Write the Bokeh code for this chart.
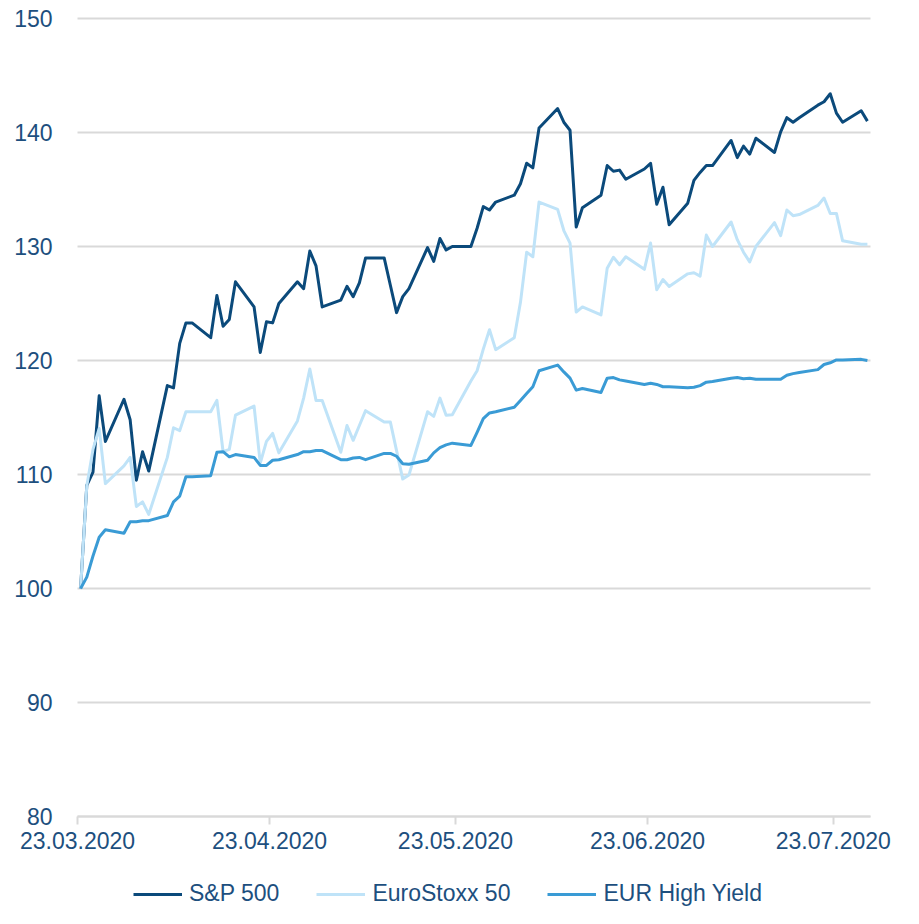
import pandas as pd
from bokeh.plotting import figure
from bokeh.models import (ColumnDataSource, FixedTicker, DatetimeTickFormatter,
                          Legend, LegendItem, Range1d)
from bokeh.embed import file_html
from bokeh.resources import INLINE

# ---------------- data ----------------
# trading days 23.03.2020 - 28.07.2020 (Mon-Fri)
dates = pd.bdate_range("2020-03-23", "2020-07-28")

sp500 = [
    # March 23-31
    100.0, 109.05, 110.2, 116.9, 112.9, 116.6, 114.8,
    # April
    109.5, 112.0, 110.3, 117.8, 117.6, 121.5, 123.3, 123.3, 122.0, 125.7,
    123.0, 123.6, 126.9, 124.7, 120.7, 123.4, 123.3, 125.0, 126.9, 126.3,
    129.6, 128.3,
    # May
    124.7, 125.3, 126.5, 125.6, 126.8, 129.0, 129.0, 126.6, 124.2, 125.6,
    126.3, 129.9, 128.7, 130.7, 129.7, 130.0, 130.0, 131.6, 133.5, 133.2,
    133.9,
    # June
    134.5, 135.5, 137.3, 136.9, 140.4, 142.1, 140.9, 140.2, 131.7, 133.4,
    134.5, 137.1, 136.6, 136.7, 135.9, 136.8, 137.3, 133.7, 135.2, 131.9,
    133.8, 135.8,
    # July 1-28
    136.5, 137.1, 137.1, 139.3, 137.8, 138.8, 138.1, 139.5, 138.25, 140.05,
    141.3, 140.9, 141.3, 142.4, 142.7, 143.4, 141.7, 140.9, 141.9, 141.0,
]

eurostoxx50 = [
    100.0, 109.0, 112.2, 114.05, 109.2, 110.75, 111.5,
    107.2, 107.6, 106.5, 111.5, 114.1, 113.85, 115.5, 115.5, 115.5, 116.5,
    112.0, 112.2, 115.2, 116.0, 111.0, 112.9, 113.6, 111.9, 114.7, 116.7,
    119.25, 116.5,
    116.5, 111.95, 114.3, 113.0, 114.3, 115.6, 114.6, 114.6, 112.1, 109.6,
    109.95, 115.5, 115.1, 116.7, 115.2, 115.25, 118.2, 119.1, 121.0, 122.7,
    120.95,
    122.0, 125.1, 129.5, 129.1, 133.9, 133.25, 131.4, 130.3, 124.25, 124.7,
    124.0, 128.1, 129.05, 128.4, 129.1, 128.0, 130.3, 126.2, 127.1, 126.5,
    127.6, 127.7,
    127.4, 131.0, 130.0, 132.15, 130.6, 129.5, 128.65, 130.0, 132.1, 130.95,
    133.2, 132.7, 132.8, 133.6, 134.25, 132.9, 132.9, 130.5, 130.2, 130.2,
]

eur_high_yield = [
    100.0, 101.0, 102.85, 104.5, 105.15, 104.85, 105.85,
    105.85, 105.95, 105.95, 106.4, 107.6, 108.1, 109.8, 109.8, 109.9, 111.95,
    112.0, 111.55, 111.75, 111.5, 110.8, 110.8, 111.25, 111.3, 111.75, 112.0,
    112.0, 112.1,
    112.1, 111.3, 111.3, 111.45, 111.5, 111.3, 111.85, 111.85, 111.6, 110.95,
    110.9, 111.25, 111.9, 112.35, 112.6, 112.75, 112.55, 113.7, 114.9, 115.4,
    115.5,
    115.9, 116.5, 117.1, 117.7, 119.1, 119.6, 119.0, 118.45, 117.4, 117.55,
    117.2, 118.45, 118.5, 118.3, 118.2, 117.9, 118.0, 117.9, 117.7, 117.7,
    117.6, 117.65,
    117.8, 118.1, 118.15, 118.45, 118.5, 118.4, 118.45, 118.35, 118.35, 118.35,
    118.7, 118.85, 118.95, 119.2, 119.65, 119.8, 120.05, 120.05, 120.1, 120.0,
]

series_names = ["S&P 500", "EuroStoxx 50", "EUR High Yield"]
series_colors = ["#0b4a7b", "#bfe3f8", "#3a9bd5"]

x_tick_dates = ["2020-03-23", "2020-04-23", "2020-05-23", "2020-06-23", "2020-07-23"]
x_axis_start, x_axis_end = "2020-03-23", "2020-07-29"
y_ticks = [80, 90, 100, 110, 120, 130, 140, 150]
y_axis_min, y_axis_max = 80, 150

# ---------------- styling ----------------
TEXT_COLOR = "#1d4f7e"
GRID_COLOR = "#d9d9d9"
FONT = "Liberation Sans"
FONT_SIZE = "23px"

assert len(dates) == len(sp500) == len(eurostoxx50) == len(eur_high_yield)

# ---------------- layout: one frame filling the 903 x 908 figure ----------------
FIG_W, FIG_H = 903, 908
LEFT, PLOT_W, RIGHT = 77, 793, 33      # px: y labels | plot area | right gap
TOP, PLOT_H, BELOW = 18, 798, 92       # px: top gap | plot area | dates + legend

DAY_MS = 86400000.0
t0 = pd.Timestamp(x_axis_start).timestamp() * 1000
t1 = pd.Timestamp(x_axis_end).timestamp() * 1000
ms_per_px = (t1 - t0) / PLOT_W
unit_per_px = (y_axis_max - y_axis_min) / PLOT_H

x_range = Range1d(t0 - LEFT * ms_per_px, t1 + RIGHT * ms_per_px)
y_range = Range1d(y_axis_min - BELOW * unit_per_px, y_axis_max + TOP * unit_per_px)

# points sit in the middle of their day (date axis, between tick marks)
xs = dates + pd.Timedelta(hours=12)
src = ColumnDataSource(dict(x=xs, sp=sp500, es=eurostoxx50, hy=eur_high_yield))

p = figure(
    x_axis_type="datetime", x_range=x_range, y_range=y_range,
    frame_width=FIG_W, frame_height=FIG_H,
    min_border_left=0, min_border_right=0, min_border_top=0, min_border_bottom=0,
    output_backend="svg", toolbar_location=None,
)
p.outline_line_color = None
p.background_fill_color = "white"
p.border_fill_color = "white"
p.xgrid.visible = False
p.ygrid.visible = False

# horizontal grid lines, only across the date span
grid_src = ColumnDataSource(dict(x0=[t0] * len(y_ticks), x1=[t1] * len(y_ticks),
                                 y=y_ticks))
p.segment(x0="x0", x1="x1", y0="y", y1="y", source=grid_src,
          line_color=GRID_COLOR, line_width=2)

renderers = []
for col, color in zip(["sp", "es", "hy"], series_colors):
    r = p.line(x="x", y=col, source=src, line_color=color, line_width=3,
               line_join="round")
    renderers.append(r)

# y axis, drawn at the first date
p.yaxis.fixed_location = t0
p.yaxis.ticker = FixedTicker(ticks=y_ticks)
p.yaxis.axis_line_color = None
p.yaxis.major_tick_line_color = None
p.yaxis.minor_tick_line_color = None
p.yaxis.major_label_standoff = 19
p.yaxis.major_label_text_font = FONT
p.yaxis.major_label_text_font_size = FONT_SIZE
p.yaxis.major_label_text_color = TEXT_COLOR

# x axis, drawn at the 80 line
p.xaxis.fixed_location = y_axis_min
p.xaxis.bounds = (t0, t1)
p.xaxis.ticker = FixedTicker(ticks=[pd.Timestamp(d).timestamp() * 1000 for d in x_tick_dates])
fmt = "%d.%m.%Y"
p.xaxis.formatter = DatetimeTickFormatter(
    milliseconds=fmt, seconds=fmt, minsec=fmt, minutes=fmt, hourmin=fmt,
    hours=fmt, days=fmt, months=fmt, years=fmt)
p.xaxis.axis_line_color = GRID_COLOR
p.xaxis.axis_line_width = 2
p.xaxis.major_tick_line_color = GRID_COLOR
p.xaxis.major_tick_line_width = 2
p.xaxis.major_tick_in = 0
p.xaxis.major_tick_out = 8
p.xaxis.minor_tick_line_color = None
p.xaxis.major_label_standoff = 7
p.xaxis.major_label_text_font = FONT
p.xaxis.major_label_text_font_size = FONT_SIZE
p.xaxis.major_label_text_color = TEXT_COLOR

# legend
items = [LegendItem(label=n, renderers=[r]) for n, r in zip(series_names, renderers)]
legend = Legend(
    items=items, orientation="horizontal", location=(133, 1),
    glyph_width=49, glyph_height=24, label_standoff=7, spacing=37,
    padding=0, margin=0, border_line_color=None, background_fill_alpha=0,
    label_text_font=FONT, label_text_font_size=FONT_SIZE, label_text_color=TEXT_COLOR,
)
p.add_layout(legend, "center")

open("out.html", "w").write(file_html(p, INLINE))
